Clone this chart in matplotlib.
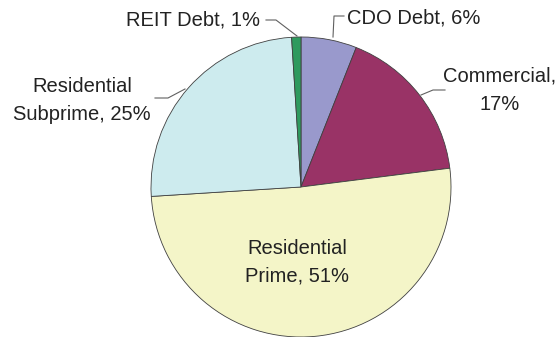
import matplotlib.pyplot as plt

# loan exposure by category, clockwise from 12 o'clock
labels = ["CDO Debt, 6%", "Commercial,\n17%", "Residential\nPrime, 51%",
          "Residential\nSubprime, 25%", "REIT Debt, 1%"]
shares = [6, 17, 51, 25, 1]
colors = ["#9999cc", "#993366", "#f4f5c8", "#cdebee", "#2e9a5e"]

plt.rcParams['font.family'] = ['Liberation Sans', 'DejaVu Sans']

W, H = 560, 337
fig = plt.figure(figsize=(W / 100, H / 100), dpi=100)
ax = fig.add_axes([0, 0, 1, 1])

cx, cy, r = 301, H - 187, 150
ax.pie(shares, colors=colors, startangle=90, counterclock=False,
       center=(cx, cy), radius=r, frame=True,
       wedgeprops=dict(edgecolor='#404040', linewidth=0.6))
ax.set_xlim(0, W)
ax.set_ylim(0, H)
ax.set_aspect('equal')
ax.axis('off')

fs = 14.5
tc = '#222222'
ls = 1.6
# label placement (x, y from top) and leader lines
ax.text(193, H - 20, labels[4], fontsize=fs, color=tc, ha='center', va='center')
ax.text(414, H - 18, labels[0], fontsize=fs, color=tc, ha='center', va='center')
ax.text(500, H - 90, labels[1], fontsize=fs, color=tc, ha='center', va='center',
        linespacing=ls)
ax.text(82, H - 101, labels[3], fontsize=fs, color=tc, ha='center', va='center',
        linespacing=ls)
ax.text(297, H - 262, labels[2], fontsize=fs, color=tc, ha='center', va='center',
        linespacing=ls)

lc = '#606060'
leaders = [
    ([266, 276, 297], [20, 20, 36]),
    ([344, 334, 333], [16, 16, 37]),
    ([445, 433, 421], [90, 90, 95]),
    ([155, 168, 185], [98, 98, 89]),
]
for xs, ys in leaders:
    ax.plot(xs, [H - y for y in ys], color=lc, lw=0.8)

fig.savefig('out.png', dpi=100, facecolor='white')
